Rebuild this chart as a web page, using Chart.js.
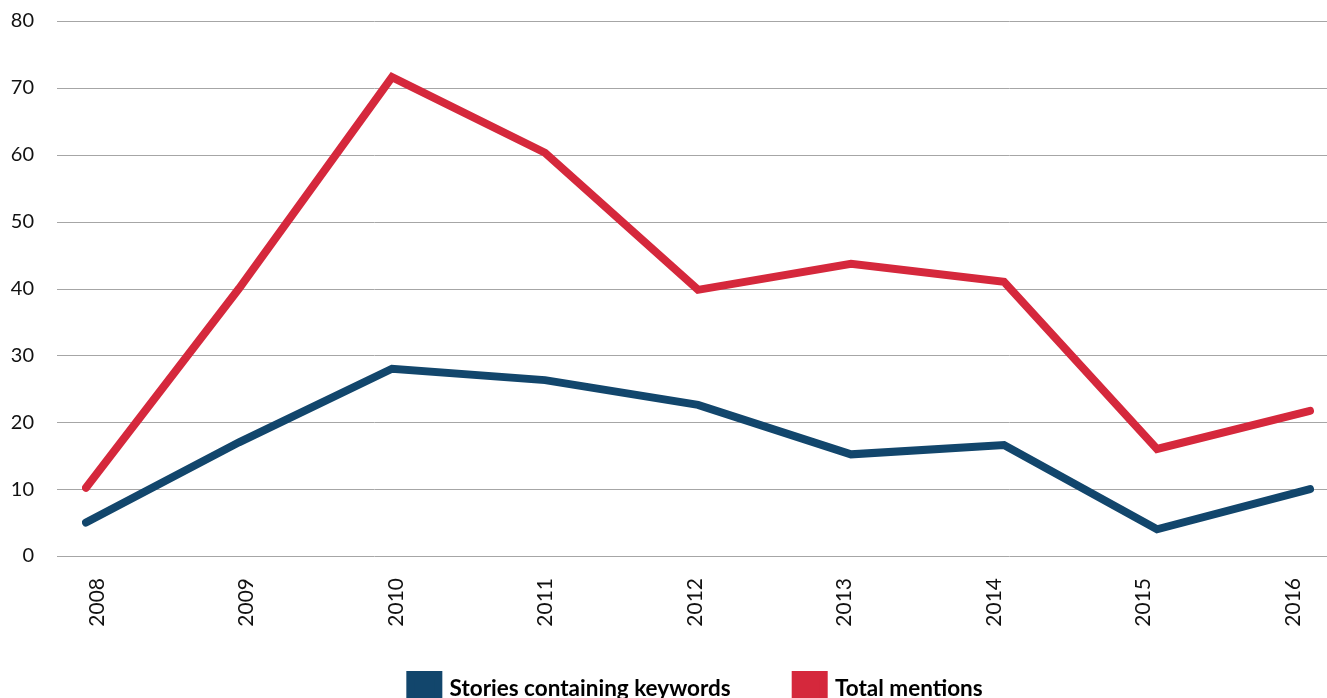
<!DOCTYPE html>
<html>
<head>
<meta charset="utf-8">
<script src="https://cdn.jsdelivr.net/npm/chart.js@4/dist/chart.umd.min.js"></script>
<style>
html,body{margin:0;padding:0;background:#fff;}
#wrap{position:relative;width:1327px;height:698px;}
</style>
</head>
<body>
<div id="wrap"><canvas id="c"></canvas></div>
<script>
const years = ['2008','2009','2010','2011','2012','2013','2014','2015','2016'];
const stories = [5, 17, 28, 26.3, 22.6, 15.2, 16.6, 4, 10];
const mentions = [10.2, 40, 71.6, 60.3, 39.8, 43.7, 41, 16, 21.7];
const yTicks = [0, 10, 20, 30, 40, 50, 60, 70, 80];

const gridPlugin = {
  id: 'extGrid',
  beforeDatasetsDraw(chart) {
    const ctx = chart.ctx;
    const ys = chart.scales.y;
    ctx.save();
    ctx.strokeStyle = '#a6a6a6';
    ctx.lineWidth = 1;
    yTicks.forEach(v => {
      const py = Math.round(ys.getPixelForValue(v)) + 0.5;
      ctx.beginPath();
      ctx.moveTo(57, py);
      ctx.lineTo(chart.width, py);
      ctx.stroke();
    });
    ctx.restore();
  }
};

new Chart(document.getElementById('c'), {
  type: 'line',
  data: {
    labels: years,
    datasets: [
      {label: 'Stories containing keywords', data: stories, borderColor: '#12466c', backgroundColor: '#12466c', borderWidth: 8, pointRadius: 0, borderCapStyle: 'round', borderJoinStyle: 'miter', tension: 0},
      {label: 'Total mentions', data: mentions, borderColor: '#d5283c', backgroundColor: '#d5283c', borderWidth: 8, pointRadius: 0, borderCapStyle: 'round', borderJoinStyle: 'miter', tension: 0}
    ]
  },
  options: {
    responsive: true,
    maintainAspectRatio: false,
    animation: false,
    layout: {padding: {left: 0, right: -66, top: 21, bottom: -15}},
    plugins: {
      tooltip: {enabled: false},
      legend: {
        position: 'bottom',
        labels: {
          boxWidth: 28, boxHeight: 28, padding: 65,
          color: '#000',
          font: {family: 'Lato', size: 22.5, weight: 'bold'}
        }
      }
    },
    scales: {
      x: {
        offset: false,
        display: false,
        afterFit(scale) { scale.paddingLeft = 0; scale.paddingRight = 17; scale.height = 0; }
      },
      xLabels: {
        type: 'linear',
        position: 'bottom',
        min: -0.0803,
        max: 8.107,
        afterBuildTicks(scale) { scale.ticks = years.map((y, i) => ({value: i})); },
        afterFit(scale) { scale.paddingLeft = 0; scale.paddingRight = 17; scale.height = 54; },
        grid: {display: false, drawTicks: false},
        border: {display: false},
        ticks: {
          mirror: true,
          minRotation: 90, maxRotation: 90, padding: -22,
          labelOffset: 24,
          autoSkip: false,
          color: '#111',
          font: {family: 'Lato', size: 21},
          callback: (v) => years[v]
        }
      },
      y: {
        min: 0, max: 80,
        afterBuildTicks(scale) { scale.ticks = yTicks.map(v => ({value: v})); },
        afterFit(scale) { scale.width = 86; scale.paddingTop = 0; scale.paddingBottom = 0; },
        grid: {display: false, drawTicks: false},
        border: {display: false},
        ticks: {
          padding: 52,
          color: '#111',
          font: {family: 'Lato', size: 20}
        }
      }
    }
  },
  plugins: [gridPlugin]
});
</script>
</body>
</html>
